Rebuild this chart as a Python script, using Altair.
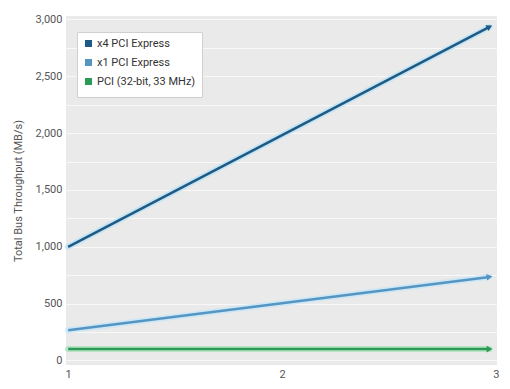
import altair as alt
import pandas as pd

series = ["x4 PCI Express", "x1 PCI Express", "PCI (32-bit, 33 MHz)"]
x_points = [1, 2.97]
x4_vals = [1000, 2935]
x1_vals = [265, 735]
pci_vals = [100, 100]
x_ticks = [1, 2, 3]

line_colors = ["#1d5a86", "#5695c2", "#2a9a55"]
glow_colors = ["#c2e3f3", "#c9e7f6", "#b2e3c2"]
arrow_angles = [332.4, 352.8, 0]

rows = []
for name, vals in zip(series, [x4_vals, x1_vals, pci_vals]):
    for i, (xv, yv) in enumerate(zip(x_points, vals)):
        rows.append({"series": name, "x": float(xv), "y": float(yv), "end": i == len(x_points) - 1})
df = pd.DataFrame(rows)

FONT = "Roboto"

x_enc = alt.X("x:Q", scale=alt.Scale(domain=[0.99, 3.005], nice=False, zero=False),
              axis=alt.Axis(values=x_ticks, grid=False, domain=False, ticks=False,
                            labelPadding=3, title=None, labelColor="#555", labelFontSize=11,
                            labelFont=FONT, labelFlush=False, labelOverlap=False,
                            labelExpr="format(datum.value, 'd')"))
y_enc = alt.Y("y:Q", scale=alt.Scale(domain=[-40, 3030], nice=False, zero=False),
              axis=alt.Axis(values=list(range(0, 3001, 250)),
                            labelExpr="datum.value % 500 == 0 ? datum.label : ''",
                            grid=True, gridColor="#f8f8f8", gridWidth=1.2, domain=False, ticks=False,
                            labelPadding=4, labelColor="#555", labelFontSize=11, labelFont=FONT,
                            labelOverlap=False,
                            title="Total Bus Throughput (MB/s)", titleFont=FONT, titleFontSize=11,
                            titleFontWeight="normal", titleColor="#555", titlePadding=12))

color_enc = alt.Color("series:N", scale=alt.Scale(domain=series, range=line_colors),
                      legend=alt.Legend(title=None, orient="none", legendX=11, legendY=16,
                                        fillColor="white", strokeColor="#cfcfcf", padding=6,
                                        symbolType="square", symbolSize=9, symbolStrokeWidth=4,
                                        labelFont=FONT, labelFontSize=11, labelColor="#333",
                                        rowPadding=0, labelOffset=3))

base = alt.Chart(df)

glow_layers = []
arrow_layers = []
for name, col, gcol, ang in zip(series, line_colors, glow_colors, arrow_angles):
    glow_layers.append(
        base.transform_filter(alt.datum.series == name)
        .mark_line(strokeWidth=6, opacity=0.9, strokeCap="round", color=gcol)
        .encode(x=x_enc, y=y_enc)
    )
    arrow_layers.append(
        base.transform_filter(alt.datum.end & (alt.datum.series == name))
        .mark_point(shape="triangle-right", filled=True, size=45, opacity=1, angle=ang, color=col)
        .encode(x=x_enc, y=y_enc)
    )

lines = base.mark_line(strokeWidth=2.5).encode(x=x_enc, y=y_enc, color=color_enc)

chart = alt.layer(*glow_layers, lines, *arrow_layers).properties(
    width=431, height=349,
    autosize=alt.AutoSizeParams(type="none"),
    padding={"left": 66, "top": 16, "right": 13, "bottom": 24},
    background="white",
).configure_view(fill="#eaeaea", stroke=None)

chart.save("out.html", embed_options={"renderer": "svg", "actions": False})
